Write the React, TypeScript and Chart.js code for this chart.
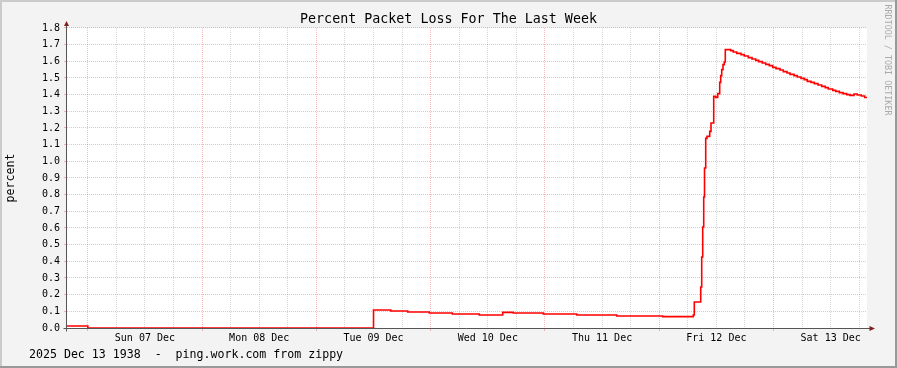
import { useEffect, useRef } from 'react';
import { Chart, registerables } from 'chart.js';

Chart.register(...registerables);

const chartTitle = 'Percent Packet Loss For The Last Week';
const yAxisLabel = 'percent';
const footerText = '2025 Dec 13 1938  -  ping.work.com from zippy';
const watermarkText = 'RRDTOOL / TOBI OETIKER';

// Window: Sat 06 Dec 19:38 -> Sat 13 Dec 19:38 (hours since start)
const windowHours = 168;
const firstMidnightHour = 4 + 22 / 60;
const dayLabels = ['Sun 07 Dec', 'Mon 08 Dec', 'Tue 09 Dec', 'Wed 10 Dec', 'Thu 11 Dec', 'Fri 12 Dec', 'Sat 13 Dec'];
const yMax = 1.8;
const yStep = 0.1;

// step start times (hours since window start)
const sampleHours = [
  0, 4.37, 64.37, 67.98, 71.55, 76.08, 80.91, 86.58, 91.5, 93.72,
  100.02, 107.04, 115.44, 125.1, 131.52, 131.73, 133.08, 133.29, 133.5, 133.71,
  133.88, 134.13, 134.4, 134.97, 135.24, 135.81, 136.23, 136.65, 137.07, 137.28,
  137.49, 137.76, 138.03, 138.24, 139.38, 139.92, 140.64, 141.54, 142.23, 143.07,
  143.85, 144.63, 145.26, 146.01, 146.73, 147.48, 148.2, 148.89, 149.73, 150.42,
  151.2, 151.83, 152.67, 153.36, 154.14, 154.83, 155.46, 156.24, 156.93, 157.71,
  158.49, 159.24, 159.87, 160.8, 161.43, 162.18, 162.96, 163.74, 164.43, 165.27,
  165.96, 166.8, 167.52, 168,
];

// percent packet loss
const lossPercent = [
  0.012, 0, 0.108, 0.102, 0.096, 0.09, 0.084, 0.078, 0.094, 0.09,
  0.084, 0.078, 0.072, 0.068, 0.078, 0.156, 0.246, 0.426, 0.606, 0.786,
  0.96, 1.138, 1.15, 1.18, 1.23, 1.39, 1.384, 1.406, 1.474, 1.514,
  1.55, 1.58, 1.596, 1.67, 1.664, 1.656, 1.648, 1.64, 1.632, 1.622,
  1.614, 1.606, 1.598, 1.59, 1.582, 1.574, 1.564, 1.556, 1.548, 1.538,
  1.53, 1.522, 1.514, 1.506, 1.498, 1.49, 1.48, 1.474, 1.466, 1.458,
  1.45, 1.442, 1.434, 1.426, 1.42, 1.412, 1.406, 1.4, 1.396, 1.404,
  1.398, 1.392, 1.383, 1.383,
];

const MONO = "'DejaVu Sans Mono', monospace";
const MAJOR_GRID = 'rgba(240,0,0,0.27)';
const MINOR_GRID = 'rgba(143,143,143,0.36)';

function tickIndex(v: number) {
  return Math.round((v - firstMidnightHour) / 6);
}

const rrdPlugin = {
  id: 'rrdDecor',
  beforeDraw(chart: any) {
    const { ctx, width, height, chartArea } = chart;
    ctx.save();
    ctx.fillStyle = '#f3f3f3';
    ctx.fillRect(0, 0, width, height);
    ctx.fillStyle = '#cbcbcb';
    ctx.fillRect(0, 0, width, 2);
    ctx.fillRect(0, 0, 2, height);
    ctx.fillStyle = '#999999';
    ctx.fillRect(0, height - 2, width, 2);
    ctx.fillRect(width - 2, 0, 2, height);
    ctx.fillStyle = '#ffffff';
    ctx.fillRect(chartArea.left, chartArea.top, chartArea.right - chartArea.left, chartArea.bottom - chartArea.top);
    ctx.restore();
  },
  afterDatasetsDraw(chart: any) {
    const { ctx, chartArea } = chart;
    const ax = chartArea.left - 0.5;
    const ay = chartArea.bottom + 0.5;
    ctx.save();
    ctx.strokeStyle = '#555555';
    ctx.lineWidth = 1;
    ctx.beginPath();
    ctx.moveTo(ax, ay + 3);
    ctx.lineTo(ax, chartArea.top - 3);
    ctx.moveTo(ax - 3, ay);
    ctx.lineTo(chartArea.right + 3, ay);
    ctx.stroke();
    ctx.fillStyle = '#7f1f1f';
    ctx.beginPath();
    ctx.moveTo(ax, chartArea.top - 7);
    ctx.lineTo(ax - 2.5, chartArea.top - 2);
    ctx.lineTo(ax + 2.5, chartArea.top - 2);
    ctx.closePath();
    ctx.fill();
    ctx.beginPath();
    ctx.moveTo(chartArea.right + 8, ay);
    ctx.lineTo(chartArea.right + 2.5, ay - 2.5);
    ctx.lineTo(chartArea.right + 2.5, ay + 2.5);
    ctx.closePath();
    ctx.fill();
    ctx.restore();
  },
  afterDraw(chart: any) {
    const { ctx } = chart;
    ctx.save();
    ctx.fillStyle = '#000000';
    ctx.font = `11.6px ${MONO}`;
    ctx.textAlign = 'left';
    ctx.textBaseline = 'alphabetic';
    ctx.fillText(footerText, 29, 357.5);
    ctx.translate(885.3, 60);
    ctx.rotate(Math.PI / 2);
    ctx.fillStyle = '#aaaaaa';
    ctx.font = `8.4px ${MONO}`;
    ctx.textAlign = 'center';
    ctx.fillText(watermarkText, 0, 0);
    ctx.restore();
  },
};

export default function App() {
  const ref = useRef<HTMLCanvasElement>(null);
  useEffect(() => {
    const canvas = ref.current;
    if (!canvas) return;
    const points = sampleHours.map((h, i) => ({ x: h, y: lossPercent[i] }));
    const xTicks: { value: number }[] = [];
    for (let h = firstMidnightHour; h <= windowHours; h += 6) xTicks.push({ value: h });

    const chart = new Chart(canvas, {
      type: 'line',
      data: {
        datasets: [
          {
            data: points,
            borderColor: '#ff0000',
            borderWidth: 1.6,
            pointRadius: 0,
            stepped: 'before',
            fill: false,
          },
        ],
      },
      options: {
        animation: false,
        responsive: false,
        devicePixelRatio: 1,
        layout: { padding: 0 },
        plugins: {
          legend: { display: false },
          tooltip: { enabled: false },
          title: {
            display: true,
            text: chartTitle,
            color: '#000000',
            font: { family: MONO, size: 13.33, weight: 'normal' },
            padding: { top: 11.5, bottom: 0.5 },
          },
        },
        scales: {
          x: {
            type: 'linear',
            min: 0,
            max: windowHours,
            afterBuildTicks: (s: any) => {
              s.ticks = xTicks.map((t) => ({ value: t.value }));
            },
            afterFit: (s: any) => {
              s.height = 40;
            },
            ticks: {
              autoSkip: false,
              maxRotation: 0,
              minRotation: 0,
              padding: 1,
              color: '#000000',
              font: { family: MONO, size: 10 },
              callback: (v: any) => {
                const k = tickIndex(Number(v));
                if (k % 4 === 2) return dayLabels[Math.floor(k / 4)] ?? '';
                return '';
              },
            },
            grid: {
              lineWidth: 1,
              tickLength: 3,
              color: (c: any) => (tickIndex(c.tick?.value ?? 0) % 4 === 0 ? MAJOR_GRID : MINOR_GRID),
              tickColor: (c: any) => (tickIndex(c.tick?.value ?? 0) % 4 === 0 ? MAJOR_GRID : 'rgba(0,0,0,0)'),
            },
            border: { display: false, dash: [1, 1] },
          },
          y: {
            type: 'linear',
            min: 0,
            max: yMax,
            afterFit: (s: any) => {
              s.width = 67;
            },
            ticks: {
              stepSize: yStep,
              padding: 4,
              color: '#000000',
              font: { family: MONO, size: 10 },
              callback: (v: any) => Number(v).toFixed(1),
            },
            grid: {
              lineWidth: 1,
              tickLength: 3,
              color: MAJOR_GRID,
              tickColor: MAJOR_GRID,
            },
            border: { display: false, dash: [1, 1] },
            title: {
              display: true,
              text: yAxisLabel,
              color: '#000000',
              font: { family: MONO, size: 11.6 },
              padding: { top: 4.4, bottom: 0 },
            },
          },
          pad: {
            type: 'linear',
            position: 'right',
            display: true,
            afterFit: (s: any) => {
              s.width = 30;
            },
            ticks: { display: false },
            grid: { display: false, drawTicks: false },
            border: { display: false },
          },
        },
      } as any,
      plugins: [rrdPlugin],
    });
    return () => chart.destroy();
  }, []);

  return (
    <div style={{ position: 'absolute', left: 0, top: 0, width: 897, height: 368 }}>
      <canvas ref={ref} width={897} height={368} style={{ display: 'block', width: 897, height: 368 }} />
    </div>
  );
}
